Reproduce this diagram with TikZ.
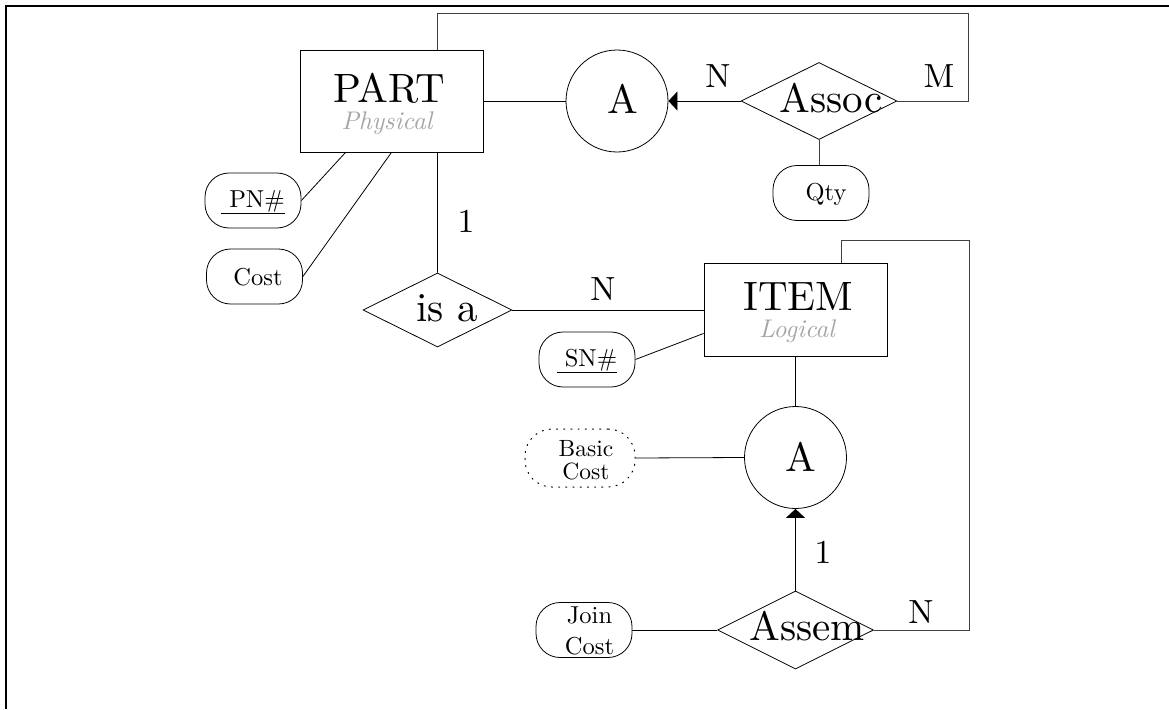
\documentclass[tikz,border=0pt]{standalone}
\usepackage{fontspec}
\setmainfont{lmroman10-regular.otf}[ItalicFont=lmroman10-italic.otf, BoldFont=lmroman10-bold.otf]
\usetikzlibrary{shapes.geometric,arrows.meta,calc}
\tikzset{
 ent/.style={draw, line width=0.8pt, rectangle, inner sep=0pt},
 attr/.style={draw, line width=0.8pt, rectangle, rounded corners=24pt, inner sep=0pt, minimum width=96pt, minimum height=55pt},
 rel/.style={draw, line width=0.8pt, diamond, inner sep=0pt, minimum width=156pt, minimum height=77pt},
 agg/.style={draw, line width=0.8pt, circle, inner sep=0pt, minimum size=102pt},
 big/.style={font=\fontsize{41}{43}\selectfont, anchor=base, inner sep=0pt},
 card/.style={font=\fontsize{33.5}{35}\selectfont, anchor=base, inner sep=0pt},
 small/.style={font=\fontsize{24.5}{22}\selectfont, anchor=base, inner sep=0pt},
 sub/.style={font=\fontsize{25.5}{27}\selectfont\itshape, text=black!35, anchor=base, inner sep=0pt},
 twoline/.style={align=center, anchor=north, inner sep=0pt},
 conn/.style={line width=0.8pt},
 loopline/.style={line width=0.8pt, draw=black!75},
 arr/.style={line width=0.8pt, -{Triangle[length=9pt,width=19pt]}},
 dottedattr/.style={dash pattern=on 1.2pt off 6pt, line cap=round, line width=1pt},
}
\begin{document}
\begin{tikzpicture}[x=1pt,y=-1pt]
\useasboundingbox (0,0) rectangle (1169,709);
\draw[line width=2.5pt] (6.2,709) -- (6.2,6.2) -- (1169,6.2);

% entities and shapes
\node[ent, minimum width=183pt, minimum height=102pt] (part) at (391.5,101) {};
\node[big] (partlbl) at (389,102) {PART};
\node[sub] (partsub) at (387,129) {Physical};
\node[agg] (aggA) at (617,101) {};
\node[big] (aggAlbl) at (623,113) {A};
\node[rel] (assoc) at (819,101) {};
\node[big] (assoclbl) at (831,112) {Assoc};
\node[attr] (qty) at (821,193) {};
\node[small] (qtylbl) at (826,200) {Qty};
\node[attr] (pn) at (253,200.5) {};
\node[small] (pnlbl) at (253,207) {\underline{\hspace{8pt}PN\#}};
\node[attr] (cost) at (254.5,276.5) {};
\node[small] (costlbl) at (258,285) {Cost};
\node[rel, minimum width=149pt, minimum height=74pt] (isa) at (437.5,310) {};
\node[big] (isalbl) at (447,321) {is a};
\node[ent, minimum width=183pt, minimum height=93pt] (item) at (795.5,310) {};
\node[big] (itemlbl) at (798.5,310) {ITEM};
\node[sub] (itemsub) at (797,337.5) {Logical};
\node[attr] (sn) at (587,359.5) {};
\node[small] (snlbl) at (587,366) {\underline{\hspace{8pt}SN\#}};
\node[agg] (aggB) at (795.5,457.5) {};
\node[big] (aggBlbl) at (801,471) {A};
\node[attr, dottedattr, minimum width=110pt, minimum height=58pt, rounded corners=27pt] (basic) at (580,458) {};
\node[twoline, font=\fontsize{23.5}{23}\selectfont] (basiclbl) at (586,440) {Basic\\Cost};
\node[rel, minimum height=78pt] (assem) at (795.5,630) {};
\node[big] (assemlbl) at (807,640) {Assem};
\node[attr] (join) at (584,630) {};
\node[twoline, font=\fontsize{24.5}{31}\selectfont] (joinlbl) at (589.5,606.3) {Join\\Cost};

% cardinalities
\node[card] (n1) at (718,88) {N};
\node[card] (m1) at (939,88) {M};
\node[card] (one1) at (466,232) {1};
\node[card] (n2) at (603,300) {N};
\node[card] (one2) at (823,563) {1};
\node[card] (n3) at (921,623) {N};

% connectors
\coordinate (ptop) at ($(part.north west)!0.75!(part.north east)$);
\coordinate (pbot) at ($(part.south west)!0.75!(part.south east)$);
\coordinate (loopA) at (968,13);
\coordinate (loopB) at (969,240);
\coordinate (itop) at ($(item.north west)!0.75!(item.north east)$);
\draw[conn] (pn.east) -- ($(part.south west)!0.25!(part.south east)$);
\draw[conn] (cost.east) -- (part.south);
\draw[conn] (part.east) -- (aggA.west);
\draw[arr] (assoc.west) -- (aggA.east);
\draw[loopline] (assoc.east) -| (loopA) -| (ptop);
\draw[loopline] (assoc.south) -- (assoc.south |- qty.north);
\draw[conn] (pbot) -- (isa.north);
\draw[conn] (isa.east) -- (item.west);
\draw[conn] (sn.east) -- ($(item.north west)!0.75!(item.south west)$);
\draw[conn] (item.south) -- (aggB.north);
\draw[conn] (basic.east) -- (aggB.west);
\draw[arr] (assem.north) -- (aggB.south);
\draw[conn] (join.east) -- (assem.west);
\draw[loopline] (assem.east) -| (loopB) -| (itop);
\end{tikzpicture}
\end{document}
